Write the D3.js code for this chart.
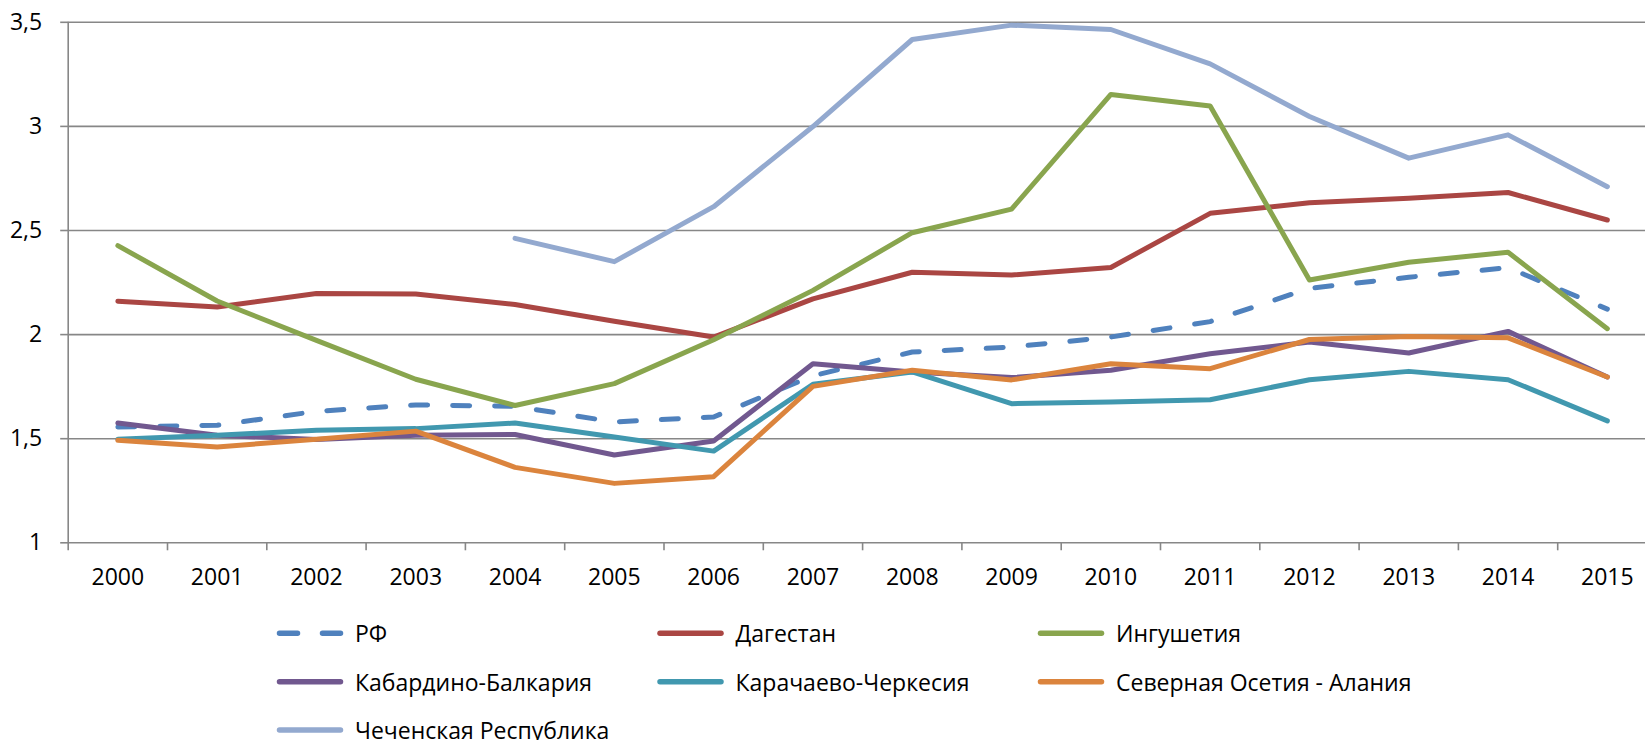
<!DOCTYPE html>
<html>
<head>
<meta charset="utf-8">
<script src="https://cdn.jsdelivr.net/npm/d3@7"></script>
<style>
  html, body { margin: 0; padding: 0; background: #fff; }
  svg { display: block; font-family: "Open Sans", sans-serif; }
</style>
</head>
<body>
<svg id="chart" width="1645" height="740"></svg>
<script>
const years = ["2000","2001","2002","2003","2004","2005","2006","2007","2008","2009","2010","2011","2012","2013","2014","2015"];
const yTicks = [1, 1.5, 2, 2.5, 3, 3.5];

const seriesNames = ["РФ", "Дагестан", "Ингушетия", "Кабардино-Балкария", "Карачаево-Черкесия", "Северная Осетия - Алания", "Чеченская Республика"];
const rf          = [1.554, 1.562, 1.629, 1.660, 1.653, 1.578, 1.602, 1.800, 1.914, 1.938, 1.986, 2.060, 2.220, 2.273, 2.319, 2.120];
const dagestan    = [2.158, 2.130, 2.195, 2.193, 2.142, 2.062, 1.986, 2.169, 2.297, 2.284, 2.320, 2.580, 2.631, 2.652, 2.680, 2.548];
const ingushetia  = [2.425, 2.159, 1.970, 1.783, 1.657, 1.762, 1.973, 2.210, 2.487, 2.600, 3.151, 3.096, 2.260, 2.345, 2.393, 2.026];
const kabardino   = [1.573, 1.514, 1.494, 1.514, 1.518, 1.419, 1.487, 1.858, 1.818, 1.791, 1.826, 1.906, 1.962, 1.909, 2.013, 1.794];
const karachaevo  = [1.495, 1.514, 1.538, 1.546, 1.573, 1.506, 1.438, 1.759, 1.818, 1.666, 1.674, 1.685, 1.781, 1.821, 1.781, 1.583];
const osetia      = [1.490, 1.458, 1.495, 1.534, 1.360, 1.283, 1.315, 1.749, 1.826, 1.780, 1.858, 1.834, 1.974, 1.989, 1.982, 1.794];
const chechnya    = [null, null, null, null, 2.460, 2.348, 2.612, 2.997, 3.415, 3.484, 3.463, 3.298, 3.045, 2.845, 2.957, 2.708];

const seriesValues = [rf, dagestan, ingushetia, kabardino, karachaevo, osetia, chechnya];
const colors = ["#4F81BD", "#AA4643", "#89A54E", "#71588F", "#4198AF", "#DB843D", "#93A9CF"];
const dashed = [true, false, false, false, false, false, false];

const svg = d3.select("#chart");
const left = 68.2, bandW = 99.3;
const x = d3.scaleBand().domain(years).range([left, left + years.length * bandW]);
const y = d3.scaleLinear().domain([1, 3.5]).range([542.3, 21.8]);
const gridColor = "#878787";

// gridlines + y axis
const yAxis = d3.axisLeft(y).tickValues(yTicks)
  .tickSize(-(x.range()[1] - left)).tickPadding(18)
  .tickFormat(d => String(d).replace(".", ","));
const gy = svg.append("g").attr("transform", `translate(${left},0)`).call(yAxis);
gy.select(".domain").remove();
gy.selectAll(".tick line").attr("stroke", gridColor).attr("stroke-width", 1.6);
gy.selectAll(".tick").append("line").attr("x1", -8).attr("x2", 0).attr("stroke", gridColor).attr("stroke-width", 1.6);
gy.selectAll(".tick text").attr("font-size", 23).attr("fill", "#000").attr("font-family", "Open Sans").attr("x", -26);

// vertical axis line
svg.append("line").attr("x1", left).attr("x2", left).attr("y1", y(3.5)).attr("y2", y(1) + 8)
  .attr("stroke", gridColor).attr("stroke-width", 1.6);

// x axis labels
const xAxis = d3.axisBottom(x).tickSize(0).tickPadding(26);
const gx = svg.append("g").attr("transform", `translate(0,${y(1)})`).call(xAxis);
gx.select(".domain").remove();
gx.selectAll(".tick text").attr("font-size", 23).attr("fill", "#000").attr("font-family", "Open Sans");

// x tick marks at band boundaries
svg.append("g").selectAll("line").data(years.slice(1).concat(["__end"]))
  .join("line")
  .attr("x1", (d, i) => x(years[0]) + (i + 1) * x.step())
  .attr("x2", (d, i) => x(years[0]) + (i + 1) * x.step())
  .attr("y1", y(1)).attr("y2", y(1) + 8)
  .attr("stroke", gridColor).attr("stroke-width", 1.6);

// lines
const line = d3.line()
  .defined(d => d.v !== null)
  .x(d => x(d.year) + x.bandwidth() / 2)
  .y(d => y(d.v));

seriesValues.forEach((vals, si) => {
  const pts = years.map((yr, i) => ({ year: yr, v: vals[i] }));
  svg.append("path").datum(pts)
    .attr("d", line)
    .attr("fill", "none")
    .attr("stroke", colors[si])
    .attr("stroke-width", 5)
    .attr("stroke-linejoin", "round")
    .attr("stroke-linecap", "round")
    .attr("stroke-dasharray", dashed[si] ? "17,25" : null);
});

// legend
const legCols = [279.5, 660, 1040.5];
const legRows = [633.3, 681.7, 730];
const leg = svg.append("g");
seriesNames.forEach((name, i) => {
  const cx = legCols[i % 3], cy = legRows[Math.floor(i / 3)];
  leg.append("line")
    .attr("x1", cx).attr("x2", cx + 61).attr("y1", cy).attr("y2", cy)
    .attr("stroke", colors[i]).attr("stroke-width", 5.5)
    .attr("stroke-linecap", "round")
    .attr("stroke-dasharray", dashed[i] ? "18,25" : null);
  leg.append("text")
    .attr("x", cx + 75.5).attr("y", cy)
    .attr("dominant-baseline", "central")
    .attr("font-size", 23).attr("fill", "#000")
    .text(name);
});
</script>
</body>
</html>
